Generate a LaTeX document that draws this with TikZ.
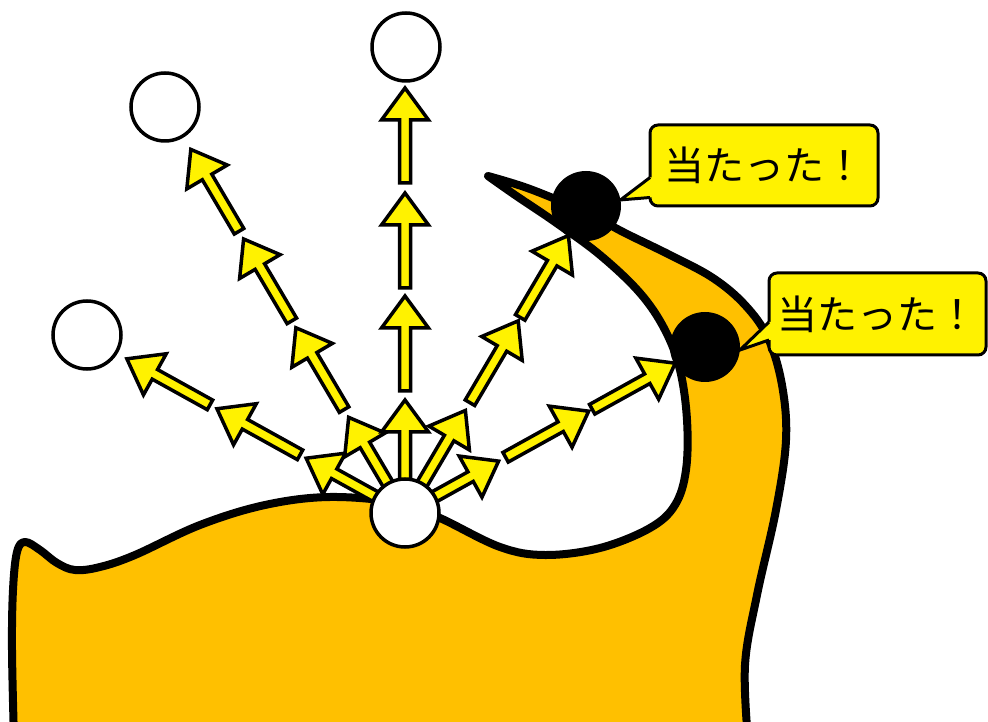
\documentclass[tikz,border=0pt]{standalone}
\usepackage{fontspec}
\newfontfamily\jpfont{Noto Sans CJK JP}

\definecolor{gold}{HTML}{FFC000}

\tikzset{
  ball/.style={circle, draw=black, line width=3.5pt, fill=white,
    minimum size=68pt, inner sep=0pt, outer sep=0pt},
  hitball/.style={circle, fill=black, minimum size=70pt, inner sep=0pt, outer sep=0pt},
  yarrow/.style={draw=black, fill=yellow, line width=3.5pt},
  callbox/.style={draw=black, fill=yellow, line width=3pt, rounded corners=8pt,
    inner sep=0pt, outer sep=0pt, font=\jpfont\fontsize{40}{40}\selectfont},
}

% one block arrow of a ray: #1 direction, #2 distance of its tip from the source
\newcommand{\raysegment}[2]{%
  \draw[yarrow, shift={(src)}, rotate=#1]
    ({#2-98},-5.5) -- ({#2-35},-5.5) -- ({#2-35},-23.5) -- ({#2-3},0)
    -- ({#2-35},23.5) -- ({#2-35},5.5) -- ({#2-98},5.5) -- cycle;}

\begin{document}
\begin{tikzpicture}[x=1pt,y=1pt]
  \clip (0,0) rectangle (988,721);

  % the wall
  \draw[line width=8pt, line join=round, fill=gold]
    plot[smooth, tension=0.6] coordinates {
      (14,-19) (12,71) (13,131) (17,169) (25,179) (40,171) (57,158) (75,151)
      (100,154) (135,166) (200,196) (265,216) (330,224) (400,218) (440,203)
      (500,174) (545,166) (600,173) (650,193) (675,216) (686,251) (687,301)
      (680,351) (665,391) (640,428) (600,466) (555,499) (515,526) (488,545)}
    -- plot[smooth, tension=0.6] coordinates {
      (488,545) (530,532) (585,509) (625,488) (670,466) (713,443) (745,416)
      (768,383) (782,336) (786,281) (776,211) (757,126) (745,56) (748,-19)}
    -- cycle;

  % points where the rays hit the wall
  \node[hitball] (hit1) at (586,515) {};
  \node[hitball] (hit2) at (705,374) {};

  % rays
  \coordinate (src) at (405,208);
  \foreach \ang/\tips in {151/{116,218,321}, 120.5/{114,218,321,425},
      90/{116,220,323,428}, 59.5/{122,226,325}, 29/{110,213,312}} {
    \foreach \d in \tips {
      \raysegment{\ang}{\d}
    }
  }

  \node[ball] (source) at (src) {};
  \node[ball] (top) at (406,674) {};
  \node[ball] (upleft) at (165,614) {};
  \node[ball] (left) at (87,386) {};

  % speech bubbles
  \node[callbox, minimum width=228pt, minimum height=81pt] (say1) at (764,555.5) {当たった！};
  \fill[yellow] ([yshift=-12pt]say1.west) -- (hit1.10) -- ([yshift=-32pt]say1.west)
    -- ++(6pt,0) -- ([xshift=6pt,yshift=-12pt]say1.west) -- cycle;
  \draw[line width=3pt] ([yshift=-12pt]say1.west) -- (hit1.10) -- ([yshift=-32pt]say1.west);

  \node[callbox, minimum width=217pt, minimum height=82pt] (say2) at (877.5,407) {当たった！};
  \fill[yellow] ([yshift=-8pt]say2.west) -- (hit2.-5) -- ([yshift=-26pt]say2.west)
    -- ++(6pt,0) -- ([xshift=6pt,yshift=-8pt]say2.west) -- cycle;
  \draw[line width=3pt] ([yshift=-8pt]say2.west) -- (hit2.-5) -- ([yshift=-26pt]say2.west);
\end{tikzpicture}
\end{document}
